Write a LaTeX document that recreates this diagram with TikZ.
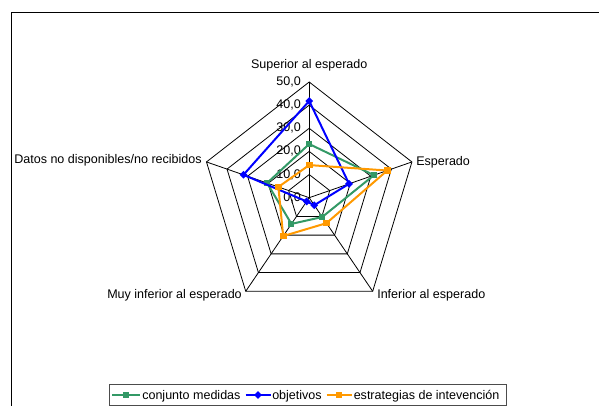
\documentclass[tikz,border=0pt]{standalone}
\usepackage{fontspec}
\setmainfont{Liberation Sans}
\usetikzlibrary{shapes.geometric}
\definecolor{cmgreen}{HTML}{339966}
\definecolor{objblue}{HTML}{0000FF}
\definecolor{estorange}{HTML}{FF9900}
\tikzset{
  gridline/.style={black,line width=0.6pt},
  cmline/.style={cmgreen,line width=1.5pt,line join=round},
  objline/.style={objblue,line width=1.5pt,line join=round},
  estline/.style={estorange,line width=1.5pt,line join=round},
  cmmark/.style={rectangle,fill=cmgreen,inner sep=0,minimum size=4.5pt},
  objmark/.style={diamond,fill=objblue,inner sep=0,minimum size=6pt},
  estmark/.style={rectangle,fill=estorange,inner sep=0,minimum size=5pt}
}
\begin{document}
\begin{tikzpicture}[x=0.75pt,y=-0.75pt,font=\fontsize{9.4}{11}\selectfont]
\useasboundingbox (0,0) rectangle (599,406);
\coordinate (ctr) at (309.2,197.7);
\coordinate (fa) at (11.5,406);
\coordinate (fb) at (11.5,12.3);
\coordinate (fc) at (599,12.3);
\draw[black,line width=0.9pt] (fa) -- (fb) -- (fc);

\foreach \r in {10,20,30,40,50}{
\foreach \i in {0,...,4}{
\coordinate (r\r-\i) at ({309.2+2.16*\r*cos(90-72*\i)},{197.7-2.314*\r*sin(90-72*\i)});
}
\draw[gridline] (r\r-0) -- (r\r-1) -- (r\r-2) -- (r\r-3) -- (r\r-4) -- cycle;
}
\foreach \i in {0,...,4}{
\draw[gridline] (ctr) -- (r50-\i);
}
\foreach \r in {0,10,...,50}{
\node[anchor=east,inner sep=0] (t\r) at (301,{197.7-2.314*\r}) {\r,0};
}

\node[anchor=base] (sup) at (309.2,69) {Superior al esperado};
\node[anchor=base west,inner sep=0] (esp) at (416,166) {Esperado};
\node[anchor=base west,inner sep=0] (inf) at (377,298) {Inferior al esperado};
\node[anchor=base east,inner sep=0] (muy) at (242,298) {Muy inferior al esperado};
\node[anchor=base east,inner sep=0] (dat) at (202,164) {Datos no disponibles/no recibidos};

% series
\foreach \v [count=\i from 0] in {23.2,31.5,10.3,14,20.5}{
\coordinate (cm\i) at ({309.2+2.16*\v*cos(90-72*\i)},{197.7-2.314*\v*sin(90-72*\i)});
}
\foreach \v [count=\i from 0] in {41.8,19.4,4,2,32}{
\coordinate (ob\i) at ({309.2+2.16*\v*cos(90-72*\i)},{197.7-2.314*\v*sin(90-72*\i)});
}
\foreach \v [count=\i from 0] in {14.1,38,13.6,20.5,15}{
\coordinate (es\i) at ({309.2+2.16*\v*cos(90-72*\i)},{197.7-2.314*\v*sin(90-72*\i)});
}
\draw[cmline] (cm0) -- (cm1) -- (cm2) -- (cm3) -- (cm4) -- cycle;
\foreach \i in {0,...,4}{
\node[cmmark] (cmm\i) at (cm\i) {};
}
\draw[objline] (ob0) -- (ob1) -- (ob2) -- (ob3) -- (ob4) -- cycle;
\foreach \i in {0,...,4}{
\node[objmark] (obm\i) at (ob\i) {};
}
\draw[estline] (es0) -- (es1) -- (es2) -- (es3) -- (es4) -- cycle;
\foreach \i in {0,...,4}{
\node[estmark] (esm\i) at (es\i) {};
}

% legend
\draw[black!70,line width=0.7pt] (109,384.5) rectangle (506,405);
\coordinate (la1) at (112,395);
\coordinate (lb1) at (140,395);
\draw[cmline] (la1) -- (lb1);
\node[cmmark] (lm1) at (126,395) {};
\node[anchor=base west,inner sep=0] (lt1) at (142,399.5) {conjunto medidas};
\coordinate (la2) at (245.5,395);
\coordinate (lb2) at (270.5,395);
\draw[objline] (la2) -- (lb2);
\node[objmark] (lm2) at (258,395) {};
\node[anchor=base west,inner sep=0] (lt2) at (272,399.5) {objetivos};
\coordinate (la3) at (326.5,395);
\coordinate (lb3) at (352,395);
\draw[estline] (la3) -- (lb3);
\node[estmark] (lm3) at (339,395) {};
\node[anchor=base west,inner sep=0] (lt3) at (353.5,399.5) {estrategias de intevención};
\end{tikzpicture}
\end{document}
